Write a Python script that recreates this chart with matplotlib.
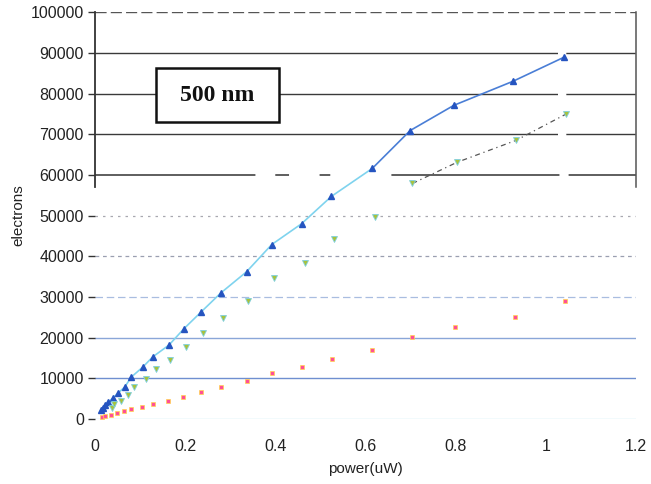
import matplotlib
matplotlib.use("Agg")
import matplotlib.pyplot as plt
from matplotlib.patches import Rectangle
import numpy as np

# ---- data ----
blue_x = [0.013, 0.018, 0.022, 0.029, 0.040, 0.051, 0.066, 0.080, 0.106, 0.128,
          0.164, 0.197, 0.235, 0.279, 0.336, 0.392, 0.458, 0.524, 0.615, 0.699,
          0.796, 0.927, 1.040]
blue_y = [2200, 2700, 3450, 4200, 5200, 6400, 7900, 10300, 12800, 15300,
          18200, 22200, 26300, 31000, 36200, 42900, 48000, 54700, 61600, 70900,
          77100, 83000, 88900]

green_x = [0.038, 0.042, 0.058, 0.073, 0.086, 0.113, 0.135, 0.166, 0.201, 0.239,
           0.284, 0.339, 0.396, 0.465, 0.531, 0.622, 0.704, 0.803, 0.934, 1.044]
green_y = [2700, 3700, 4400, 5900, 7900, 9900, 12300, 14500, 17700, 21200,
           24900, 29100, 34700, 38400, 44300, 49700, 57900, 63100, 68500, 74900]

red_x = [0.015, 0.022, 0.035, 0.049, 0.064, 0.080, 0.104, 0.128, 0.162, 0.195,
         0.235, 0.279, 0.336, 0.392, 0.459, 0.526, 0.615, 0.703, 0.799, 0.931, 1.042]
red_y = [500, 700, 1000, 1500, 2000, 2500, 3000, 3700, 4400, 5400,
         6600, 7900, 9400, 11300, 12800, 14800, 17000, 20200, 22700, 25100, 29100]

x_ticks = [0, 0.2, 0.4, 0.6, 0.8, 1, 1.2]
x_tick_labels = ["0", "0.2", "0.4", "0.6", "0.8", "1", "1.2"]
y_ticks = [0, 10000, 20000, 30000, 40000, 50000, 60000, 70000, 80000, 90000, 100000]
label_text = "500 nm"

# ---- figure ----
fig = plt.figure(figsize=(6.51, 4.84), dpi=100)
ax = fig.add_axes([0.146, 0.134, 0.831, 0.841])
ax.set_xlim(0, 1.2)
ax.set_ylim(0, 100000)

ax.set_yticks(y_ticks)
ax.set_yticklabels([str(v) for v in y_ticks], fontsize=11.5, family="Liberation Sans", color="#222222")
ax.set_xticks(x_ticks)
ax.set_xticklabels(x_tick_labels, fontsize=11.5, family="Liberation Sans", color="#222222")
ax.tick_params(axis="x", length=0, pad=14)
ax.tick_params(axis="y", length=5, width=1, direction="out", pad=3, color="#333333")
ax.yaxis.grid(True)
grid_styles = [
    ("#bfe6f2", "-", 1.0),   # 0
    ("#6f8fd0", "-", 1.0),   # 10000
    ("#8aa6d8", "-", 1.0),   # 20000
    ("#a9bde0", (0, (6, 3)), 0.9),  # 30000
    ("#9a9fb0", (0, (3, 3)), 0.9),  # 40000
    ("#a8a8b0", (0, (2, 4)), 0.9),  # 50000
    ("#333333", (0, (105, 13, 9, 20, 7, 40, 110, 6, 50, 10)), 1.1),  # 60000
    ("#3a3a3a", (0, (333, 6, 50, 10)), 1.0),   # 70000
    ("#3a3a3a", (0, (333, 6, 50, 10)), 1.0),   # 80000
    ("#3a3a3a", (0, (333, 6, 50, 10)), 1.0),   # 90000
    ("#555555", (0, (8, 3)), 1.0),  # 100000
]
for gl, (c, ls, lw) in zip(ax.get_ygridlines(), grid_styles):
    gl.set_color(c)
    gl.set_linestyle(ls)
    gl.set_linewidth(lw)

for s in ["top", "bottom"]:
    ax.spines[s].set_visible(False)
ax.spines["left"].set_bounds(57000, 100000)
ax.spines["left"].set_color("#333333")
ax.spines["left"].set_linewidth(1.3)
ax.spines["right"].set_bounds(57000, 100000)
ax.spines["right"].set_color("#555555")
ax.spines["right"].set_linewidth(1.1)

# blue series: lower part faded cyan, upper part blue (scan appearance)
bx = np.array(blue_x); by = np.array(blue_y)
split = 18
ax.plot(bx[:split + 1], by[:split + 1], color="#7fd3ee", lw=1.2, zorder=3)
ax.plot(bx[split:], by[split:], color="#4a7ed6", lw=1.2, zorder=3)
ax.plot(bx, by, ls="none", marker="^", ms=4.5, color="#2554c0", zorder=4)

# green series
gx = np.array(green_x); gy = np.array(green_y)
ax.plot(gx[16:], gy[16:], color="#555555", lw=0.9, ls=(0, (4, 3, 1, 3)), zorder=3)
ax.plot(gx, gy, ls="none", marker="v", ms=4, color="#a8c23c",
        markeredgecolor="#7fd0e0", markeredgewidth=0.6, zorder=4)

# red series
ax.plot(red_x, red_y, ls="none", marker="s", ms=3, color="#ff4f96",
        markeredgecolor="#ffd84a", markeredgewidth=0.5, zorder=4)

# label box
ax.add_patch(Rectangle((0.113, 0.730), 0.227, 0.132, transform=ax.transAxes,
                       facecolor="white", edgecolor="#111111", linewidth=1.8, zorder=5))
ax.text(0.2265, 0.796, label_text, transform=ax.transAxes, fontsize=17, fontweight="bold",
        family="Liberation Serif", ha="center", va="center", color="#111111", zorder=6)

ax.set_xlabel("power(uW)", fontsize=11, family="Liberation Sans", color="#222222", labelpad=6)
ax.set_ylabel("electrons", fontsize=11, family="Liberation Sans", color="#222222", labelpad=4)

fig.savefig("out.png", dpi=100)
